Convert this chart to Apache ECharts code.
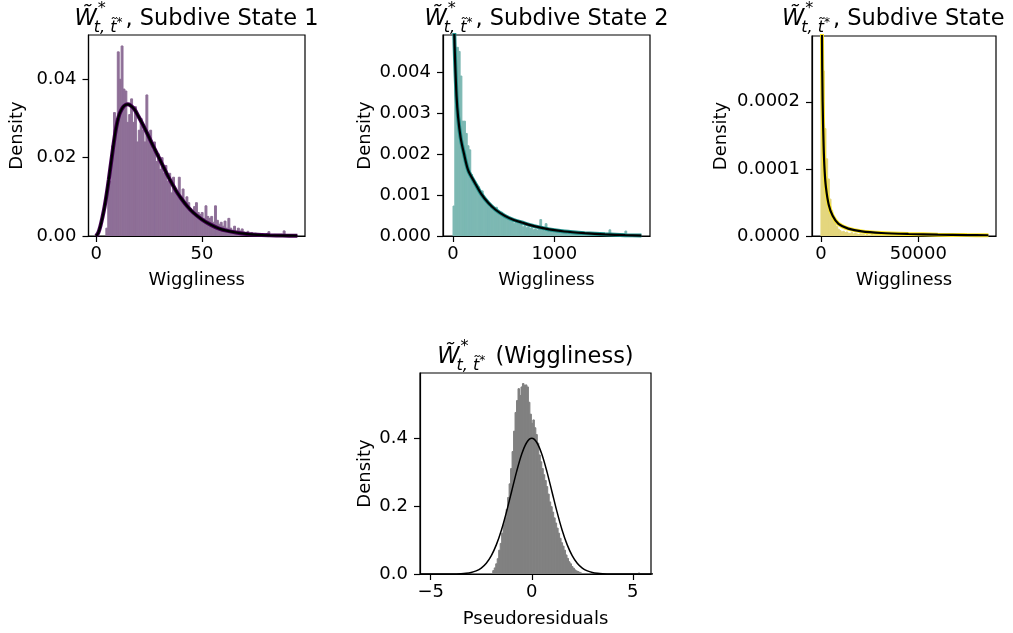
<!DOCTYPE html>
<html>
<head>
<meta charset="utf-8">
<script src="https://cdn.jsdelivr.net/npm/echarts@6/dist/echarts.min.js"></script>
<style>
  html, body { margin: 0; padding: 0; background: #fff; }
  #main { width: 1013px; height: 633px; }
</style>
</head>
<body>
<div id="main"></div>
<script>
// ---- data ----
// subdive state 1 histogram (bins start at state1BinStart, each state1BinWidth wide)
var state1BinStart = 4.6, state1BinWidth = 0.9;
var state1Density = [
  0.002, 0.013, 0.014, 0.023, 0.0315, 0.030, 0.047, 0.040, 0.0485, 0.0375,
  0.037, 0.029, 0.031, 0.035, 0.029, 0.033, 0.024, 0.027, 0.030, 0.027,
  0.024, 0.036, 0.025, 0.027, 0.022, 0.024, 0.019, 0.021, 0.017, 0.020,
  0.016, 0.018, 0.014, 0.016, 0.011, 0.015, 0.012, 0.010, 0.015, 0.009,
  0.012, 0.008, 0.010, 0.0085, 0.007, 0.006, 0.0075, 0.0085, 0.006, 0.0055,
  0.006, 0.0045, 0.0077, 0.005, 0.0045, 0.005, 0.0035, 0.0077, 0.004, 0.003,
  0.0035, 0.0025, 0.0038, 0.002, 0.0045, 0.002, 0.0015, 0.0025, 0.0012, 0.002,
  0.0013, 0.0018, 0.001, 0.0008, 0.0012, 0.0006, 0.0009, 0.0005, 0.0007, 0.0004,
  0.0005, 0.0003, 0.0004, 0.0003, 0.0006, 0.0011, 0.0003, 0.0002, 0.0004, 0.0002,
  0.0003, 0.0001, 0.0002, 0.0013, 0.0002, 0.0001, 0.0001, 0.0001, 0.0, 0.0001
];
var state1CurveX = [0, 1, 2, 3, 4, 5, 6, 7, 8, 9, 10, 11, 12, 13, 14, 15, 16, 18, 20, 22, 24, 26, 28, 30,
  32, 34, 36, 38, 40, 43, 46, 50, 54, 58, 62, 66, 70, 76, 82, 88, 95];
var state1CurveY = [0, 0.0008, 0.0025, 0.0048, 0.0075, 0.0108, 0.0145, 0.0185, 0.0225, 0.0262, 0.0291,
  0.0311, 0.0323, 0.0331, 0.0335, 0.0336, 0.0334, 0.0324, 0.0305, 0.0285, 0.0263, 0.0240, 0.0218, 0.0196,
  0.0174, 0.0152, 0.0132, 0.0113, 0.0097, 0.0076, 0.0059, 0.0042, 0.0029, 0.0019, 0.0013, 0.0009, 0.0006,
  0.0003, 0.00017, 0.0001, 0.00006];
var state1XTicks = [0, 50];
var state1YTicks = [0, 0.02, 0.04];

// subdive state 2
var state2BinStart = 0, state2BinWidth = 17.5;
var state2Density = [
  0.00073, 0.0038, 0.0046, 0.0045, 0.0039, 0.0028, 0.0028, 0.0025, 0.0022, 0.0021,
  0.0015, 0.0013, 0.00128, 0.00125, 0.0012, 0.0010, 0.0011, 0.0009, 0.00085, 0.0008,
  0.0007, 0.00075, 0.00065, 0.0006, 0.0007, 0.00055, 0.0005, 0.00058, 0.00045, 0.0005,
  0.0004, 0.00045, 0.00038, 0.0004, 0.0003, 0.00035, 0.0003, 0.00028, 0.00032, 0.00022,
  0.00025, 0.0002, 0.00022, 0.00018, 0.0002, 0.00015, 0.00017, 0.00014, 0.00018, 0.0004,
  0.00015, 0.00012, 0.0003, 0.00012, 0.0001, 0.00013, 0.0001, 0.00008, 0.0001, 0.00012,
  0.00007, 0.00009, 0.00006, 0.00008, 0.00005, 0.00007, 0.00006, 0.00004, 0.00006, 0.00005,
  0.00007, 0.00004, 0.00005, 0.00003, 0.00006, 0.00004, 0.00005, 0.00003, 0.00004, 0.00006,
  0.00003, 0.00004, 0.00005, 0.00003, 0.00004, 0.00006, 0.00003, 0.00005, 0.00015, 0.00004,
  0.00003, 0.00005, 0.00002, 0.00004, 0.00003, 0.00005, 0.00002, 0.00012, 0.00003, 0.00002
];
var state2CurveX = [0, 5, 12, 20, 35, 50, 75, 106, 150, 215, 280, 347, 420, 512, 600, 677, 800, 950,
  1100, 1300, 1500, 1700, 1860];
var state2CurveY = [0.0080, 0.0062, 0.0050, 0.0043, 0.0034, 0.0029, 0.0024, 0.00203, 0.0016, 0.0013,
  0.00102, 0.00081, 0.00064, 0.00049, 0.00039, 0.00033, 0.00024, 0.00016, 0.00011, 0.00007, 0.00004,
  0.00002, 0.00001];
var state2XTicks = [0, 1000];
var state2YTicks = [0, 0.001, 0.002, 0.003, 0.004];

// subdive state 3
var state3BinStart = 0, state3BinWidth = 860;
var state3Density = [
  0.00028, 0.000246, 0.00016, 0.000115, 0.000085, 0.000055, 0.000038, 0.00003, 0.00002, 0.000014,
  0.00001, 0.000008, 0.000006, 0.000007, 0.000005, 0.000006, 0.000004, 0.000004, 0.000005, 0.000003,
  0.000004, 0.000003, 0.000002, 0.000003, 0.000002, 0.000002, 0.000001, 0.000002, 0.000001, 0.000001,
  0.000002, 0.000001, 0.000001, 0.000001, 0.000001, 0.0000005, 0.000001, 0.0000005, 0.000001, 0.0000005,
  0.0000005, 0.000001, 0.0000005, 0.0000005, 0.0000005, 0.0000005, 0.000001, 0.0000005, 0.0000005, 0.0000005,
  0.0000005, 0.0000005, 0.0000005, 0.0000005, 0.0000005, 0.0000005, 0.0000005, 0.0000005, 0.0000005, 0.0000005,
  0, 0.0000005, 0, 0.0000005, 0, 0.0000005, 0, 0, 0.0000005, 0,
  0, 0.0000005, 0, 0, 0.0000005, 0, 0, 0, 0.0000005, 0,
  0, 0, 0.0000005, 0, 0, 0, 0, 0.0000005, 0, 0,
  0, 0, 0, 0, 0, 0, 0, 0, 0, 0
];
var state3CurveX = [150, 300, 520, 860, 1370, 1890, 2580, 3960, 6000, 9000, 14000, 21000, 31000, 45000,
  60000, 75000, 86000];
var state3CurveY = [0.0012, 0.0005, 0.0003, 0.0002, 0.000134, 0.000097, 0.000072, 0.000047, 0.00003,
  0.000018, 0.000011, 0.0000068, 0.0000045, 0.000003, 0.000002, 0.0000014, 0.0000011];
var state3XTicks = [0, 50000];
var state3YTicks = [0, 0.0001, 0.0002];

// pseudoresiduals
var residBinStart = -1.93, residBinWidth = 0.0735;
var residDensity = [
  0.010, 0.018, 0.030, 0.045, 0.070, 0.090, 0.120, 0.145, 0.165, 0.190,
  0.225, 0.265, 0.310, 0.360, 0.420, 0.475, 0.510, 0.545, 0.525, 0.550,
  0.560, 0.555, 0.556, 0.550, 0.505, 0.470, 0.443, 0.453, 0.430, 0.410,
  0.385, 0.350, 0.330, 0.310, 0.292, 0.275, 0.257, 0.235, 0.212, 0.198,
  0.182, 0.165, 0.150, 0.135, 0.120, 0.105, 0.092, 0.082, 0.070, 0.056,
  0.046, 0.036, 0.030, 0.022, 0.017, 0.012, 0.009, 0.007, 0.005, 0.003,
  0, 0, 0, 0, 0, 0, 0, 0, 0, 0,
  0, 0, 0, 0, 0, 0, 0, 0, 0, 0,
  0, 0, 0, 0, 0, 0, 0, 0, 0, 0,
  0, 0, 0, 0, 0, 0, 0, 0, 0.003, 0
];
var residCurveX = [-5.5, -5, -4.5, -4, -3.5, -3.25, -3, -2.75, -2.5, -2.25, -2, -1.75, -1.5, -1.25, -1,
  -0.75, -0.5, -0.25, 0, 0.25, 0.5, 0.75, 1, 1.25, 1.5, 1.75, 2, 2.25, 2.5, 2.75, 3, 3.25, 3.5, 4, 4.5,
  5, 5.5, 6];
var residCurveY = [0, 0.0000015, 0.000016, 0.00013, 0.00087, 0.0020, 0.0044, 0.0091, 0.0175, 0.0317,
  0.0540, 0.0863, 0.1295, 0.1826, 0.2420, 0.3011, 0.3521, 0.3867, 0.3989, 0.3867, 0.3521, 0.3011, 0.2420,
  0.1826, 0.1295, 0.0863, 0.0540, 0.0317, 0.0175, 0.0091, 0.0044, 0.0020, 0.00087, 0.00013, 0.000016,
  0.0000015, 0, 0];
var residXTicks = [-5, 0, 5];
var residYTicks = [0, 0.2, 0.4];

// ---- chart ----
var FONT = '"DejaVu Sans", sans-serif';
var myChart = echarts.init(document.getElementById('main'), null, { renderer: 'canvas' });

var grids = [
  { left: 88.5, top: 35, width: 216.5, height: 201 },
  { left: 443, top: 35, width: 207, height: 201 },
  { left: 812, top: 36, width: 184, height: 200 },
  { left: 420, top: 373, width: 231, height: 201 }
];
grids.forEach(function (g) {
  g.show = true; g.borderColor = '#000'; g.borderWidth = 1.2; g.backgroundColor = 'rgba(0,0,0,0)';
  g.containLabel = false;
});

function minusSign(v) { return String(v).replace('-', '\u2212'); }

function xAxis(i, min, max, ticks, name, gap) {
  return {
    type: 'value', gridIndex: i, min: min, max: max,
    name: name, nameLocation: 'middle', nameGap: gap,
    nameTextStyle: { fontFamily: FONT, fontSize: 18, color: '#000' },
    axisLine: { show: true, onZero: false, lineStyle: { color: '#000', width: 1.2 } },
    axisTick: { show: true, length: 6, customValues: ticks, lineStyle: { color: '#000', width: 1.2 } },
    axisLabel: { customValues: ticks, margin: 9, fontFamily: FONT, fontSize: 18, color: '#000', formatter: minusSign },
    splitLine: { show: false }
  };
}
function yAxis(i, max, ticks, decimals, gap) {
  return {
    type: 'value', gridIndex: i, min: 0, max: max,
    name: 'Density', nameLocation: 'middle', nameGap: gap,
    nameTextStyle: { fontFamily: FONT, fontSize: 18, color: '#000' },
    axisLine: { show: true, onZero: false, lineStyle: { color: '#000', width: 1.2 } },
    axisTick: { show: true, length: 6, customValues: ticks, lineStyle: { color: '#000', width: 1.2 } },
    axisLabel: { customValues: ticks, margin: 12, fontFamily: FONT, fontSize: 18, color: '#000',
      formatter: function (v) { return v.toFixed(decimals); } },
    splitLine: { show: false }
  };
}

// histogram bars: colour already blended with white, stroked so neighbouring bars close up
function histSeries(i, start, width, heights, color) {
  var items = heights.map(function (h, k) { return [start + k * width, start + (k + 1) * width, h]; });
  return {
    type: 'custom', xAxisIndex: i, yAxisIndex: i, data: items, clip: true, z: 1,
    encode: { x: [0, 1], y: 2 },
    renderItem: function (params, api) {
      var h = api.value(2);
      if (!h) return null;
      var p0 = api.coord([api.value(0), h]);
      var p1 = api.coord([api.value(1), 0]);
      return { type: 'rect', shape: { x: p0[0], y: p0[1], width: p1[0] - p0[0], height: p1[1] - p0[1] },
        style: { fill: color, stroke: color, lineWidth: 1 } };
    }
  };
}
function curveSeries(i, xs, ys, color, width, z) {
  return {
    type: 'line', xAxisIndex: i, yAxisIndex: i, z: z,
    data: xs.map(function (x, k) { return [x, ys[k]]; }),
    showSymbol: false, smooth: 0.3, clip: true,
    lineStyle: { color: color, width: width }
  };
}

// measure text so each title can be centred over its plot like matplotlib does
var measureCtx = document.createElement('canvas').getContext('2d');
function textWidth(t, font) { measureCtx.font = font; return measureCtx.measureText(t).width; }

function mathTitle(cx, capMid, suffix) {
  var fMain = 'italic 22.5px ' + FONT, fSup = '16px ' + FONT, fSub = 'italic 16px ' + FONT,
      fSubStar = '12px ' + FONT, fRest = '22.5px ' + FONT;
  var wW = textWidth('W\u0303', fMain);
  var wSub = textWidth('t, t\u0303', fSub);
  var wSubStar = textWidth('*', fSubStar);
  var wSup = textWidth('*', fSup);
  var mathW = wW + Math.max(wSup + 1, wSub + wSubStar - 2) + 2;
  var total = mathW + textWidth(suffix, fRest);
  var left = cx - total / 2;
  var top = capMid - 12;
  return [
    { type: 'text', x: left, y: top, style: { text: 'W\u0303', font: fMain, fill: '#000' } },
    { type: 'text', x: left + wW + 1, y: top - 7, style: { text: '*', font: fSup, fill: '#000' } },
    { type: 'text', x: left + wW - 3, y: top + 12, style: { text: 't, t\u0303', font: fSub, fill: '#000' } },
    { type: 'text', x: left + wW - 3 + wSub, y: top + 9, style: { text: '*', font: fSubStar, fill: '#000' } },
    { type: 'text', x: left + mathW, y: top, style: { text: suffix, font: fRest, fill: '#000' } }
  ];
}

var titles = []
  .concat(mathTitle(196.5, 19.5, ', Subdive State 1'))
  .concat(mathTitle(546.5, 19.5, ', Subdive State 2'))
  .concat(mathTitle(904, 19.5, ', Subdive State 3'))
  .concat(mathTitle(535.5, 358, ' (Wiggliness)'));

myChart.setOption({
  animation: false,
  backgroundColor: '#fff',
  grid: grids,
  xAxis: [
    xAxis(0, -3.6, 98.6, state1XTicks, 'Wiggliness', 35),
    xAxis(1, -99, 1945, state2XTicks, 'Wiggliness', 35),
    xAxis(2, -4600, 89900, state3XTicks, 'Wiggliness', 35),
    xAxis(3, -5.53, 5.9, residXTicks, 'Pseudoresiduals', 36)
  ],
  yAxis: [
    yAxis(0, 0.0513, state1YTicks, 2, 62),
    yAxis(1, 0.0049, state2YTicks, 3, 69),
    yAxis(2, 0.000298, state3YTicks, 4, 82),
    yAxis(3, 0.591, residYTicks, 1, 46)
  ],
  graphic: titles,
  series: [
    histSeries(0, state1BinStart, state1BinWidth, state1Density, '#8e6f97'),
    curveSeries(0, state1CurveX, state1CurveY, '#440154', 4, 3),
    curveSeries(0, state1CurveX, state1CurveY, '#000', 2.2, 4),

    histSeries(1, state2BinStart, state2BinWidth, state2Density, '#7cb8b3'),
    curveSeries(1, state2CurveX, state2CurveY, '#21918c', 4, 3),
    curveSeries(1, state2CurveX, state2CurveY, '#000', 2.2, 4),

    histSeries(2, state3BinStart, state3BinWidth, state3Density, '#e4d67d'),
    curveSeries(2, state3CurveX, state3CurveY, '#fde725', 4, 3),
    curveSeries(2, state3CurveX, state3CurveY, '#000', 2.2, 4),

    histSeries(3, residBinStart, residBinWidth, residDensity, '#808080'),
    curveSeries(3, residCurveX, residCurveY, '#000', 1.5, 4)
  ]
});
</script>
</body>
</html>
